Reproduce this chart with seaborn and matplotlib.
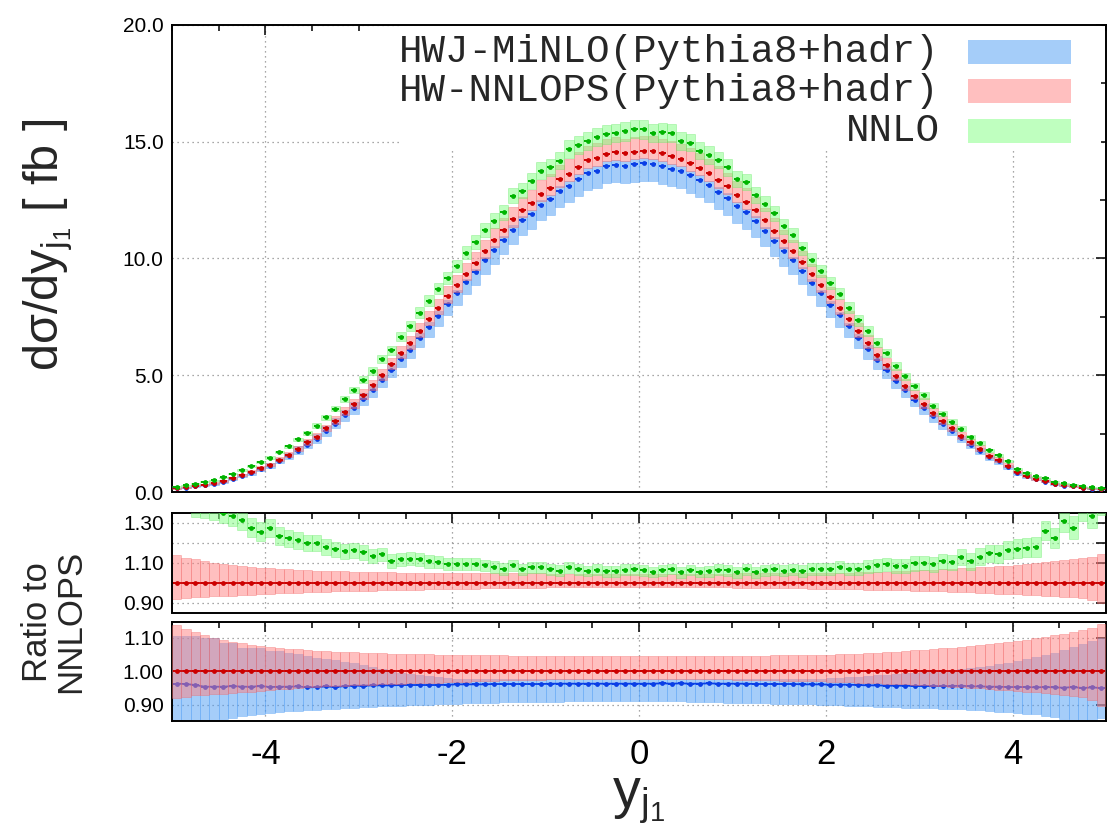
import numpy as np
import matplotlib
matplotlib.use("Agg")
import matplotlib.pyplot as plt
import seaborn as sns
from matplotlib.patches import Rectangle
from matplotlib.ticker import FixedLocator, FixedFormatter, MultipleLocator

# ---------------- data ----------------
# bin centres of y_j1, bins of width 0.1 from -5 to 5
yj1 = np.round(np.arange(-4.95, 5.0, 0.1), 2)

# HW-NNLOPS central value  [fb]
nnlops = [
    0.16, 0.20, 0.26, 0.32, 0.37, 0.47, 0.59, 0.72, 0.86, 1.02,
    1.16, 1.39, 1.60, 1.86, 2.12, 2.37, 2.72, 3.06, 3.43, 3.76,
    4.17, 4.57, 5.00, 5.47, 5.95, 6.36, 6.88, 7.39, 7.88, 8.39,
    8.86, 9.35, 9.79, 10.32, 10.78, 11.22, 11.68, 12.09, 12.38, 12.78,
    13.02, 13.39, 13.63, 13.93, 14.20, 14.29, 14.49, 14.55, 14.50, 14.58,
    14.62, 14.60, 14.50, 14.38, 14.28, 14.08, 13.88, 13.65, 13.35, 13.09,
    12.73, 12.43, 12.08, 11.63, 11.19, 10.73, 10.32, 9.86, 9.33, 8.85,
    8.35, 7.88, 7.39, 6.88, 6.38, 5.88, 5.45, 4.98, 4.56, 4.13,
    3.77, 3.39, 3.03, 2.73, 2.40, 2.13, 1.85, 1.56, 1.37, 1.13,
    0.85, 0.70, 0.57, 0.47, 0.36, 0.29, 0.25, 0.19, 0.15, 0.12,
]
# HW-NNLOPS band, relative upper / lower size
nnlops_up = [
    0.137, 0.125, 0.117, 0.108, 0.100, 0.092, 0.088, 0.083, 0.079, 0.075,
    0.072, 0.070, 0.067, 0.065, 0.063, 0.061, 0.059, 0.058, 0.057, 0.056,
    0.055, 0.054, 0.053, 0.052, 0.051, 0.051, 0.050, 0.050, 0.049, 0.049,
    0.048, 0.048, 0.048, 0.047, 0.047, 0.047, 0.046, 0.046, 0.046, 0.046,
    0.045, 0.045, 0.045, 0.045, 0.045, 0.045, 0.044, 0.044, 0.044, 0.044,
    0.044, 0.044, 0.044, 0.044, 0.045, 0.045, 0.045, 0.045, 0.045, 0.045,
    0.046, 0.046, 0.046, 0.046, 0.047, 0.047, 0.047, 0.048, 0.048, 0.048,
    0.049, 0.050, 0.051, 0.052, 0.053, 0.054, 0.056, 0.058, 0.060, 0.062,
    0.064, 0.066, 0.068, 0.070, 0.072, 0.075, 0.078, 0.080, 0.083, 0.086,
    0.090, 0.094, 0.098, 0.102, 0.107, 0.112, 0.118, 0.124, 0.130, 0.142,
]
nnlops_dn = [
    0.080, 0.076, 0.072, 0.070, 0.068, 0.067, 0.065, 0.063, 0.061, 0.058,
    0.056, 0.054, 0.052, 0.050, 0.048, 0.046, 0.045, 0.044, 0.043, 0.042,
    0.041, 0.040, 0.039, 0.038, 0.037, 0.036, 0.035, 0.034, 0.034, 0.033,
    0.032, 0.031, 0.030, 0.029, 0.028, 0.027, 0.027, 0.026, 0.025, 0.025,
    0.024, 0.024, 0.023, 0.023, 0.023, 0.022, 0.022, 0.022, 0.022, 0.022,
    0.022, 0.022, 0.022, 0.022, 0.022, 0.023, 0.023, 0.023, 0.024, 0.024,
    0.025, 0.025, 0.026, 0.026, 0.027, 0.028, 0.028, 0.029, 0.030, 0.030,
    0.031, 0.032, 0.033, 0.034, 0.035, 0.036, 0.037, 0.038, 0.039, 0.040,
    0.042, 0.043, 0.044, 0.046, 0.047, 0.049, 0.051, 0.053, 0.055, 0.057,
    0.059, 0.061, 0.063, 0.065, 0.067, 0.070, 0.073, 0.078, 0.085, 0.103,
]
# NNLO / NNLOPS ratio and its band half-width
ratio_nnlo = [
    1.450, 1.420, 1.390, 1.380, 1.370, 1.350, 1.333, 1.313, 1.277, 1.255,
    1.273, 1.233, 1.223, 1.212, 1.198, 1.198, 1.178, 1.167, 1.158, 1.162,
    1.152, 1.132, 1.142, 1.108, 1.118, 1.120, 1.117, 1.108, 1.105, 1.093,
    1.093, 1.095, 1.095, 1.087, 1.078, 1.068, 1.087, 1.068, 1.077, 1.077,
    1.068, 1.060, 1.078, 1.067, 1.058, 1.065, 1.057, 1.057, 1.065, 1.067,
    1.062, 1.053, 1.062, 1.068, 1.052, 1.063, 1.053, 1.057, 1.065, 1.063,
    1.053, 1.067, 1.052, 1.062, 1.067, 1.060, 1.065, 1.058, 1.067, 1.070,
    1.070, 1.078, 1.068, 1.068, 1.080, 1.087, 1.092, 1.085, 1.085, 1.097,
    1.098, 1.092, 1.108, 1.102, 1.130, 1.107, 1.130, 1.147, 1.145, 1.165,
    1.170, 1.175, 1.178, 1.262, 1.225, 1.308, 1.277, 1.370, 1.337, 1.400,
]
nnlo_err = [
    0.060, 0.060, 0.058, 0.056, 0.055, 0.052, 0.050, 0.050, 0.048, 0.048,
    0.046, 0.045, 0.044, 0.042, 0.041, 0.040, 0.039, 0.038, 0.037, 0.036,
    0.036, 0.035, 0.034, 0.034, 0.033, 0.033, 0.032, 0.032, 0.031, 0.031,
    0.030, 0.030, 0.030, 0.029, 0.029, 0.029, 0.028, 0.028, 0.028, 0.028,
    0.028, 0.027, 0.027, 0.027, 0.027, 0.027, 0.027, 0.027, 0.027, 0.027,
    0.027, 0.027, 0.027, 0.027, 0.027, 0.027, 0.027, 0.027, 0.027, 0.028,
    0.028, 0.028, 0.028, 0.028, 0.029, 0.029, 0.029, 0.030, 0.030, 0.030,
    0.031, 0.031, 0.032, 0.032, 0.033, 0.033, 0.034, 0.034, 0.035, 0.036,
    0.036, 0.037, 0.038, 0.039, 0.040, 0.041, 0.042, 0.044, 0.045, 0.046,
    0.048, 0.048, 0.050, 0.050, 0.052, 0.055, 0.056, 0.058, 0.060, 0.060,
]
# HWJ-MiNLO / NNLOPS ratio and its band (absolute ratio)
ratio_minlo = [
    0.963, 0.962, 0.959, 0.954, 0.954, 0.954, 0.956, 0.954, 0.954, 0.956,
    0.953, 0.954, 0.954, 0.955, 0.952, 0.953, 0.955, 0.953, 0.956, 0.957,
    0.957, 0.958, 0.958, 0.958, 0.959, 0.959, 0.959, 0.959, 0.959, 0.960,
    0.961, 0.961, 0.961, 0.961, 0.962, 0.962, 0.962, 0.962, 0.962, 0.962,
    0.963, 0.963, 0.963, 0.963, 0.963, 0.963, 0.963, 0.963, 0.963, 0.963,
    0.963, 0.963, 0.964, 0.963, 0.964, 0.963, 0.963, 0.964, 0.963, 0.963,
    0.963, 0.963, 0.962, 0.962, 0.962, 0.962, 0.962, 0.961, 0.961, 0.961,
    0.960, 0.960, 0.960, 0.959, 0.958, 0.958, 0.957, 0.957, 0.957, 0.956,
    0.956, 0.956, 0.956, 0.956, 0.957, 0.955, 0.955, 0.954, 0.954, 0.953,
    0.953, 0.953, 0.952, 0.953, 0.952, 0.951, 0.953, 0.950, 0.952, 0.950,
]
minlo_hi = [
    1.104, 1.106, 1.106, 1.099, 1.099, 1.084, 1.084, 1.069, 1.069, 1.069,
    1.059, 1.059, 1.055, 1.050, 1.045, 1.040, 1.036, 1.032, 1.028, 1.024,
    1.018, 1.012, 1.006, 1.001, 0.996, 0.992, 0.989, 0.986, 0.983, 0.980,
    0.978, 0.977, 0.977, 0.976, 0.977, 0.977, 0.978, 0.977, 0.976, 0.977,
    0.977, 0.978, 0.977, 0.977, 0.976, 0.977, 0.977, 0.978, 0.977, 0.977,
    0.977, 0.977, 0.978, 0.977, 0.977, 0.976, 0.977, 0.977, 0.978, 0.977,
    0.977, 0.976, 0.977, 0.977, 0.977, 0.978, 0.977, 0.977, 0.977, 0.978,
    0.979, 0.980, 0.982, 0.984, 0.986, 0.988, 0.990, 0.992, 0.994, 0.996,
    0.998, 1.000, 1.002, 1.004, 1.006, 1.009, 1.013, 1.017, 1.021, 1.025,
    1.030, 1.036, 1.042, 1.048, 1.055, 1.064, 1.072, 1.080, 1.090, 1.100,
]
minlo_lo = [
    0.840, 0.838, 0.842, 0.846, 0.850, 0.858, 0.862, 0.866, 0.870, 0.874,
    0.877, 0.879, 0.881, 0.883, 0.885, 0.886, 0.888, 0.889, 0.890, 0.892,
    0.893, 0.894, 0.896, 0.897, 0.898, 0.899, 0.900, 0.901, 0.902, 0.903,
    0.904, 0.905, 0.906, 0.906, 0.907, 0.908, 0.908, 0.909, 0.909, 0.910,
    0.910, 0.910, 0.911, 0.911, 0.911, 0.911, 0.912, 0.912, 0.912, 0.912,
    0.912, 0.912, 0.911, 0.911, 0.911, 0.910, 0.910, 0.909, 0.908, 0.907,
    0.906, 0.906, 0.905, 0.905, 0.904, 0.904, 0.904, 0.903, 0.902, 0.901,
    0.900, 0.899, 0.898, 0.897, 0.896, 0.895, 0.894, 0.893, 0.892, 0.892,
    0.891, 0.890, 0.889, 0.888, 0.887, 0.886, 0.884, 0.882, 0.880, 0.878,
    0.876, 0.874, 0.872, 0.868, 0.864, 0.858, 0.850, 0.845, 0.845, 0.860,
]

legend_labels = ["HWJ-MiNLO(Pythia8+hadr)", "HW-NNLOPS(Pythia8+hadr)", "NNLO"]
top_yticks = [0.0, 5.0, 10.0, 15.0, 20.0]
top_yticklabels = ["0.0", "5.0", "10.0", "15.0", "20.0"]
r1_yticks = [0.9, 1.0, 1.1, 1.2, 1.3]
r1_yticklabels = ["0.90", "", "1.10", "", "1.30"]
r2_yticks = [0.9, 1.0, 1.1]
r2_yticklabels = ["0.90", "1.00", "1.10"]
xticks = [-4, -2, 0, 2, 4]
xticklabels = ["-4", "-2", "0", "2", "4"]

# ---------------- derived arrays ----------------
nnlops = np.array(nnlops)
up = np.array(nnlops_up); dn = np.array(nnlops_dn)
rn = np.array(ratio_nnlo); en = np.array(nnlo_err)
rm = np.array(ratio_minlo); mhi = np.array(minlo_hi); mlo = np.array(minlo_lo)

# ---------------- style ----------------
sns.set_style("white")
plt.rcParams["font.family"] = ["Liberation Sans", "DejaVu Sans"]
plt.rcParams["mathtext.fontset"] = "custom"
plt.rcParams["mathtext.rm"] = "Liberation Sans"
plt.rcParams["mathtext.it"] = "Liberation Sans"
plt.rcParams["mathtext.sf"] = "Liberation Sans"

BLUE_F = (0.30, 0.61, 0.96, 0.50)
RED_F = (1.00, 0.50, 0.50, 0.50)
GREEN_F = (0.50, 1.00, 0.50, 0.50)
BLUE_E = (0.30, 0.61, 0.96, 0.35)
RED_E = (0.95, 0.40, 0.40, 0.35)
GREEN_E = (0.40, 0.90, 0.40, 0.35)
BLUE_P = "#0a3fe6"
RED_P = "#cc0000"
GREEN_P = "#00b400"

fig = plt.figure(figsize=(11.18, 8.30), dpi=100)
L, W = 172 / 1118, 934 / 1118
ax0 = fig.add_axes([L, 1 - 492 / 830, W, 467 / 830])
ax1 = fig.add_axes([L, 1 - 612.5 / 830, W, 99.5 / 830])
ax2 = fig.add_axes([L, 1 - 721 / 830, W, 99.5 / 830])


def band(ax, lo, hi, face, edge, z):
    ax.bar(yj1, np.asarray(hi) - np.asarray(lo), bottom=lo, width=0.1,
           color=face, edgecolor=edge, linewidth=0.7, zorder=z)


def points(ax, y, color, z, line=False):
    if line:
        sns.lineplot(x=yj1, y=y, color=color, lw=1.3, ax=ax, zorder=z,
                     legend=False)
    ax.errorbar(yj1, y, xerr=0.035, fmt="none", ecolor=color,
                elinewidth=1.4, capsize=0, zorder=z + 0.05)
    sns.scatterplot(x=yj1, y=y, color=color, s=12, marker="o",
                    linewidth=0, ax=ax, zorder=z + 0.1, legend=False)


# top panel
band(ax0, nnlops * mlo, nnlops * mhi, BLUE_F, BLUE_E, 2)
points(ax0, nnlops * rm, BLUE_P, 3)
band(ax0, nnlops * (1 - dn), nnlops * (1 + up), RED_F, RED_E, 4)
points(ax0, nnlops, RED_P, 5)
band(ax0, nnlops * (rn - en), nnlops * (rn + en), GREEN_F, GREEN_E, 6)
points(ax0, nnlops * rn, GREEN_P, 7)

# ratio panel 1: NNLO and NNLOPS
ones = np.ones_like(nnlops)
band(ax1, ones - dn, ones + up, RED_F, RED_E, 2)
points(ax1, ones, RED_P, 3, line=True)
band(ax1, rn - en, rn + en, GREEN_F, GREEN_E, 4)
points(ax1, rn, GREEN_P, 5)

# ratio panel 2: MiNLO and NNLOPS
band(ax2, mlo, mhi, BLUE_F, BLUE_E, 2)
points(ax2, rm, BLUE_P, 3, line=True)
band(ax2, ones - dn, ones + up, RED_F, RED_E, 4)
points(ax2, ones, RED_P, 5, line=True)

grid_kw = dict(color="#8a8a8a", linestyle=(0, (1, 3)), linewidth=0.9)
for ax in (ax0, ax1, ax2):
    ax.set_xlim(-5, 5)
    ax.set_axisbelow(True)
    ax.xaxis.set_major_locator(FixedLocator(xticks))
    ax.xaxis.set_minor_locator(MultipleLocator(0.5))
    ax.grid(True, which="major", **grid_kw)
    ax.tick_params(which="both", direction="in", top=True, right=True,
                   colors="black", width=1.1)
    ax.tick_params(which="major", length=7)
    ax.tick_params(which="minor", length=4)
    ax.set_xlabel(""); ax.set_ylabel("")
    for s in ax.spines.values():
        s.set_color("black"); s.set_linewidth(1.4); s.set_visible(True)

ax0.set_ylim(0, 20)
ax0.yaxis.set_major_locator(FixedLocator(top_yticks))
ax0.yaxis.set_major_formatter(FixedFormatter(top_yticklabels))
ax0.yaxis.set_minor_locator(MultipleLocator(2.5))
ax1.set_ylim(0.85, 1.35)
ax1.yaxis.set_major_locator(FixedLocator(r1_yticks))
ax1.yaxis.set_major_formatter(FixedFormatter(r1_yticklabels))
ax2.set_ylim(0.852, 1.148)
ax2.yaxis.set_major_locator(FixedLocator(r2_yticks))
ax2.yaxis.set_major_formatter(FixedFormatter(r2_yticklabels))
for ax in (ax0, ax1):
    ax.tick_params(labelbottom=False)
for ax in (ax0, ax1, ax2):
    ax.tick_params(axis="y", labelsize=15, pad=6)
ax2.xaxis.set_major_formatter(FixedFormatter(xticklabels))
ax2.tick_params(axis="x", labelsize=25, pad=12)

# legend (gnuplot style: right-aligned text, swatch on the right,
# opaque key area that hides the grid)
ax0.add_patch(Rectangle((0.245, 0.735), 0.75, 0.265, transform=ax0.transAxes,
                        facecolor="white", edgecolor="none", zorder=0.8))
rows_y = [0.942, 0.859, 0.773]
for lab, yy, fc in zip(legend_labels, rows_y, [BLUE_F, RED_F, GREEN_F]):
    ax0.text(0.822, yy, lab, transform=ax0.transAxes, ha="right",
             va="center", fontsize=28.2, family="Liberation Mono", zorder=10)
    ax0.add_patch(Rectangle((0.852, yy - 0.026), 0.111, 0.052,
                            transform=ax0.transAxes, facecolor=fc,
                            edgecolor="none", zorder=10))

# axis titles
fig.text(0.043, 0.705, "dσ/dy$_{\\mathrm{j_1}}$ [ fb ]", rotation=90,
         ha="center", va="center", fontsize=35)
fig.text(0.048, 0.251, "Ratio to\nNNLOPS", rotation=90, ha="center",
         va="center", fontsize=25, linespacing=1.0)
fig.text(0.5715, 0.036, "y$_{\\mathrm{j_1}}$", ha="center", va="center",
         fontsize=40)

fig.savefig("out.png", dpi=100, facecolor="white")
